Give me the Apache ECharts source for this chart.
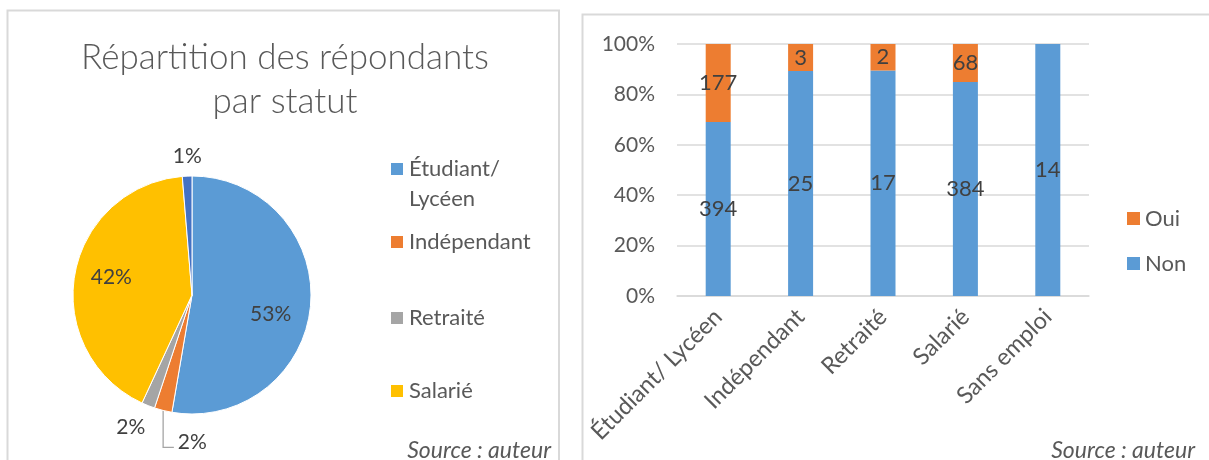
<!DOCTYPE html>
<html>
<head>
<meta charset="utf-8">
<script src="https://cdn.jsdelivr.net/npm/echarts@6/dist/echarts.min.js"></script>
<style>
  html, body { margin: 0; padding: 0; background: #ffffff; }
  #chart { width: 1209px; height: 460px; }
</style>
</head>
<body>
<div id="chart"></div>
<script>
// ---- Data ----
const categories = ['Étudiant/ Lycéen', 'Indépendant', 'Retraité', 'Salarié', 'Sans emploi'];
const pieShares = [52.7, 2.4, 1.8, 41.8, 1.3];          // % of respondents (pie)
const nonCounts = [394, 25, 17, 384, 14];               // "Non" counts per status
const ouiCounts = [177, 3, 2, 68, 0];                   // "Oui" counts per status
const yTickLabels = ['0%', '20%', '40%', '60%', '80%', '100%'];
const pieTitle = 'Répartition des répondants\npar statut';
const sourceText = 'Source : auteur';

// ---- Style ----
const FONT = 'Lato';
const pieColors = ['#5B9BD5', '#ED7D31', '#A5A5A5', '#FFC000', '#4472C4'];
const colNon = '#5B9BD5', colOui = '#ED7D31';
const txt = '#595959', lblTxt = '#404040', lineCol = '#d9d9d9';
const pieCenter = [192, 295], pieR = 119;

const totals = nonCounts.map((v, i) => v + ouiCounts[i]);
const nonPct = nonCounts.map((v, i) => v / totals[i] * 100);
const ouiPct = ouiCounts.map((v, i) => v / totals[i] * 100);

const smallLabel = {
  1: { label: { position: 'outside' }, labelLine: { show: true, length: 34, length2: 0, lineStyle: { color: '#A5A5A5', width: 1.3 } } },
  2: { label: { position: 'outside' }, labelLine: { show: false, length: 24, length2: 0 } },
  4: { label: { position: 'outside' }, labelLine: { show: false, length: 10, length2: 0 } }
};

const pieData = categories.map((name, i) => {
  const item = { name: name, value: pieShares[i], itemStyle: { color: pieColors[i] } };
  if (smallLabel[i]) Object.assign(item, smallLabel[i]);
  else { item.label = { position: 'inside' }; }
  return item;
});

const legendTops = [124, 227.5, 303.5, 376.5];
const pieLegends = categories.slice(0, 4).map((name, i) => ({
  data: [name],
  orient: 'vertical',
  left: 389,
  top: legendTops[i],
  padding: 0,
  itemWidth: 14,
  itemHeight: 14,
  icon: 'rect',
  selectedMode: false,
  // first entry wraps on two lines; a leading blank line keeps the marker level with line one
  formatter: n => (n.indexOf('/ ') >= 0 ? ' \n' + n.replace('/ ', '/\n') : n),
  textStyle: { fontFamily: FONT, fontSize: 22, lineHeight: i === 0 ? 30 : 29, color: txt }
}));

const option = {
  animation: false,
  textStyle: { fontFamily: FONT },
  title: {
    text: pieTitle,
    left: 280,
    top: 31,
    textAlign: 'center',
    textStyle: { fontFamily: FONT, fontSize: 35, fontWeight: 300, lineHeight: 44, color: txt }
  },
  legend: pieLegends.concat([{
    data: ['Oui', 'Non'],
    orient: 'vertical',
    left: 1127,
    top: 206,
    padding: 0,
    itemWidth: 13,
    itemHeight: 13,
    itemGap: 20,
    icon: 'rect',
    selectedMode: false,
    textStyle: { fontFamily: FONT, fontSize: 22, lineHeight: 25, color: txt }
  }]),
  grid: { left: 677, top: 44, width: 412, height: 252 },
  xAxis: {
    type: 'category',
    data: categories,
    axisLine: { lineStyle: { color: lineCol, width: 1.5 } },
    axisTick: { show: false },
    axisLabel: { interval: 0, rotate: 45, margin: 17, fontFamily: FONT, fontSize: 23.5, color: txt }
  },
  yAxis: {
    type: 'value',
    min: 0, max: 100, interval: 20,
    axisLine: { show: false },
    axisTick: { show: false },
    splitLine: { lineStyle: { color: lineCol, width: 1.5 } },
    axisLabel: {
      margin: 22, fontFamily: FONT, fontSize: 21, color: txt,
      formatter: v => yTickLabels[Math.round(v / 20)]
    }
  },
  series: [
    {
      type: 'pie',
      center: pieCenter,
      radius: [0, pieR],
      startAngle: 90,
      clockwise: true,
      avoidLabelOverlap: false,
      itemStyle: { borderColor: '#ffffff', borderWidth: 1 },
      label: {
        fontFamily: FONT, fontSize: 21, color: lblTxt,
        formatter: p => Math.round(p.percent) + '%'
      },
      labelLayout: function (p) {
        const r = p.labelRect;
        const lx = r.x + r.width / 2, ly = r.y + r.height / 2;
        if (p.dataIndex === 0) {
          return { dx: (lx - pieCenter[0]) * 0.36 - 6, dy: (ly - pieCenter[1]) * 0.36 + 12 };
        }
        if (p.dataIndex === 3) {
          return { dx: (lx - pieCenter[0]) * 0.36 + 3, dy: (ly - pieCenter[1]) * 0.36 - 3 };
        }
        if (p.dataIndex === 1) {
          const dx = 57, dy = -1;
          const start = p.labelLinePoints ? p.labelLinePoints[0] : [lx, r.y];
          const yLine = ly + dy + 5;
          const xEnd = r.x + dx - 4;
          return { dx: dx, dy: dy, labelLinePoints: [start, [start[0], yLine], [xEnd, yLine]] };
        }
        if (p.dataIndex === 2) return { dx: 11, dy: -1 };
        if (p.dataIndex === 4) return { dx: 20, dy: -10 };
      },
      data: pieData
    },
    {
      name: 'Non',
      type: 'bar',
      stack: 'tot',
      barWidth: 25,
      itemStyle: { color: colNon },
      label: {
        show: true, position: 'inside', fontFamily: FONT, fontSize: 22, color: lblTxt,
        formatter: p => nonCounts[p.dataIndex] ? String(nonCounts[p.dataIndex]) : ''
      },
      data: nonPct
    },
    {
      name: 'Oui',
      type: 'bar',
      stack: 'tot',
      barWidth: 25,
      itemStyle: { color: colOui },
      label: {
        show: true, position: 'inside', fontFamily: FONT, fontSize: 22, color: lblTxt,
        formatter: p => ouiCounts[p.dataIndex] ? String(ouiCounts[p.dataIndex]) : ''
      },
      data: ouiPct
    }
  ],
  graphic: [
    { type: 'rect', silent: true, z: -10, shape: { x: 7.5, y: 10.5, width: 551.5, height: 480 },
      style: { fill: null, stroke: lineCol, lineWidth: 2 } },
    { type: 'rect', silent: true, z: -10, shape: { x: 582.5, y: 14.5, width: 700, height: 480 },
      style: { fill: null, stroke: lineCol, lineWidth: 2 } },
    { type: 'text', right: 1209 - 551, top: 439,
      style: { text: sourceText, fontFamily: FONT, fontSize: 23, fontStyle: 'italic', fill: txt } },
    { type: 'text', right: 1209 - 1195, top: 439,
      style: { text: sourceText, fontFamily: FONT, fontSize: 23, fontStyle: 'italic', fill: txt } }
  ]
};

const chart = echarts.init(document.getElementById('chart'), null, { renderer: 'canvas' });
chart.setOption(option);
</script>
</body>
</html>
